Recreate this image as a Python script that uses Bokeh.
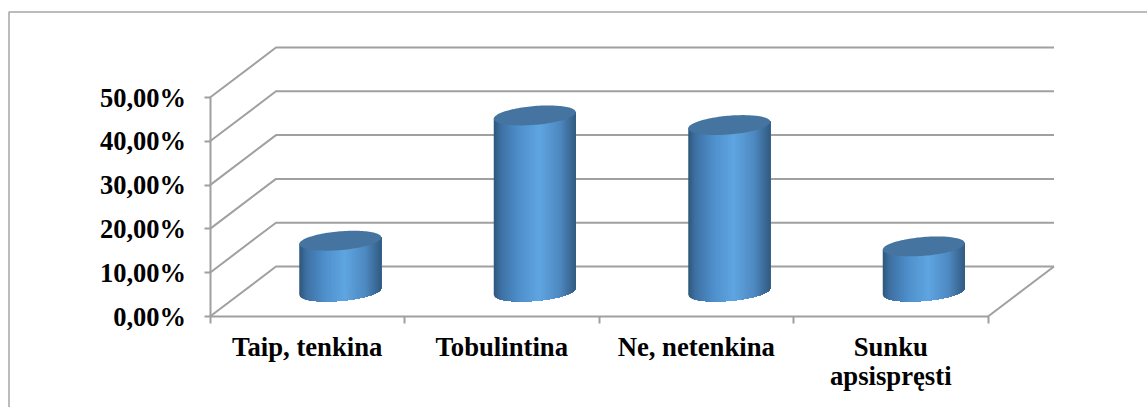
import numpy as np
from bokeh.embed import file_html
from bokeh.models import FixedTicker, LinearAxis, Range1d
from bokeh.plotting import figure
from bokeh.resources import INLINE

categories = ["Taip, tenkina", "Tobulintina", "Ne, netenkina", "Sunku\napsispręsti"]
shares = [11.6, 40.2, 38.0, 10.3]
y_ticks = [0, 10, 20, 30, 40, 50]
y_tick_labels = ["0,00%", "10,00%", "20,00%", "30,00%", "40,00%", "50,00%"]

W, H = 1147, 407
X0_PX, UNIT_X = 209.5, 194.5      # left end of the floor, pixels per category
Y0_PX, UNIT_Y = 316.0, 4.38       # zero line, pixels per percentage point
DEPTH_X, DEPTH_Y = 66.0 / UNIT_X, 50.0 / UNIT_Y

GRID = "#a0a0a0"
FONT = "Liberation Serif"
LABEL_SIZE = "26.7px"
LABEL_STANDOFF = 8
LABEL_LINE_STEP = 36


def data_x(px):
    return (px - X0_PX) / UNIT_X


def data_y(py):
    return (Y0_PX - py) / UNIT_Y


p = figure(
    width=W, height=H, output_backend="svg", toolbar_location=None,
    x_range=Range1d(data_x(0), data_x(W)), y_range=Range1d(data_y(H), data_y(0)),
    x_axis_location=None, y_axis_location=None,
    min_border=0, outline_line_color=None, background_fill_color="white",
)
p.grid.visible = False

# Outer frame: only the top and left edges stay inside the page
p.line([data_x(8.5)] * 2 + [data_x(W)], [data_y(H), data_y(11.5), data_y(11.5)],
       line_color="#a6a6a6", line_width=1.5)

# Side wall and back wall of the 3D box
n_cat = len(categories)
for t in y_ticks:
    p.line([0, DEPTH_X, n_cat + DEPTH_X], [t, t + DEPTH_Y, t + DEPTH_Y],
           line_color=GRID, line_width=2)
p.line([n_cat, n_cat + DEPTH_X], [0, DEPTH_Y], line_color=GRID, line_width=2)

# Cylinders: shaded vertical strips, painted left to right, below a flat tilted lid
STOPS = [0.0, 0.08, 0.3, 0.55, 0.8, 0.95, 1.0]
RGB = np.array([[47, 88, 125], [62, 113, 163], [78, 143, 203], [95, 165, 225],
                [78, 137, 193], [56, 101, 143], [49, 90, 128]], dtype=float)
RADIUS_X = 41.0 / UNIT_X
TILT = 3.3 / UNIT_Y
RADIUS_Y = 9.4 / UNIT_Y
STRIPS = 82

for i, share in enumerate(shares):
    cx = i + 0.5 + DEPTH_X / 2
    base = DEPTH_Y / 2
    top = base + share
    edges = np.linspace(-1, 1, STRIPS + 1)
    lower = base + TILT * edges - RADIUS_Y * np.sqrt(1 - edges ** 2)
    xs, ys, colors = [], [], []
    for k in range(STRIPS):
        run_u = edges[k:]
        xs.append(np.concatenate([cx + RADIUS_X * run_u, [cx + RADIUS_X, cx + RADIUS_X * edges[k]]]))
        ys.append(np.concatenate([lower[k:], [top + TILT, top + TILT * edges[k]]]))
        frac = (edges[k] + 1) / 2
        rgb = [int(round(np.interp(frac, STOPS, RGB[:, c]))) for c in range(3)]
        colors.append("#%02x%02x%02x" % tuple(rgb))
    p.patches(xs, ys, fill_color=colors, line_color=None)

    theta = np.linspace(0, 2 * np.pi, 121)
    p.patch(cx + RADIUS_X * np.cos(theta),
            top + TILT * np.cos(theta) + RADIUS_Y * np.sin(theta),
            fill_color="#44749f", line_color=None)

# Value axis
y_axis = LinearAxis(fixed_location=0, bounds=(0, 50), ticker=FixedTicker(ticks=y_ticks),
                    major_label_overrides=dict(zip(y_ticks, y_tick_labels)))
y_axis.axis_line_color = GRID
y_axis.axis_line_width = 2
y_axis.major_tick_line_color = GRID
y_axis.major_tick_line_width = 2
y_axis.major_tick_out = 6
y_axis.major_tick_in = 0
y_axis.minor_tick_line_color = None
y_axis.major_label_standoff = 18
y_axis.major_label_text_font = FONT
y_axis.major_label_text_font_style = "bold"
y_axis.major_label_text_font_size = "26.5px"
y_axis.major_label_text_color = "black"
p.add_layout(y_axis, "left")

# Category axis: labels centred on each slot, small ticks on the slot boundaries
centres = [i + 0.5 for i in range(n_cat)]
first_lines = {c: name.split("\n")[0] for c, name in zip(centres, categories)}
second_lines = {c: name.split("\n")[1] for c, name in zip(centres, categories) if "\n" in name}

x_axis = LinearAxis(fixed_location=0, bounds=(0, n_cat),
                    ticker=FixedTicker(ticks=centres, minor_ticks=list(range(n_cat + 1))),
                    major_label_overrides=first_lines)
x_axis.axis_line_color = GRID
x_axis.axis_line_width = 2
x_axis.major_tick_line_color = None
x_axis.major_tick_out = 0
x_axis.major_tick_in = 0
x_axis.minor_tick_line_color = GRID
x_axis.minor_tick_line_width = 2
x_axis.minor_tick_out = 7
x_axis.minor_tick_in = 0
x_axis.major_label_standoff = LABEL_STANDOFF
x_axis.major_label_text_font = FONT
x_axis.major_label_text_font_style = "bold"
x_axis.major_label_text_font_size = LABEL_SIZE
x_axis.major_label_text_color = "black"
p.add_layout(x_axis, "below")

# Wrapped category names continue one line lower on an axis of their own
wrap_axis = LinearAxis(fixed_location=0, ticker=FixedTicker(ticks=list(second_lines)),
                       major_label_overrides=second_lines)
wrap_axis.axis_line_color = None
wrap_axis.major_tick_line_color = None
wrap_axis.minor_tick_line_color = None
wrap_axis.major_tick_out = 0
wrap_axis.major_tick_in = 0
wrap_axis.major_label_standoff = LABEL_STANDOFF + LABEL_LINE_STEP
wrap_axis.major_label_text_font = FONT
wrap_axis.major_label_text_font_style = "bold"
wrap_axis.major_label_text_font_size = LABEL_SIZE
wrap_axis.major_label_text_color = "black"
p.add_layout(wrap_axis, "below")

open("out.html", "w").write(file_html(p, INLINE))
